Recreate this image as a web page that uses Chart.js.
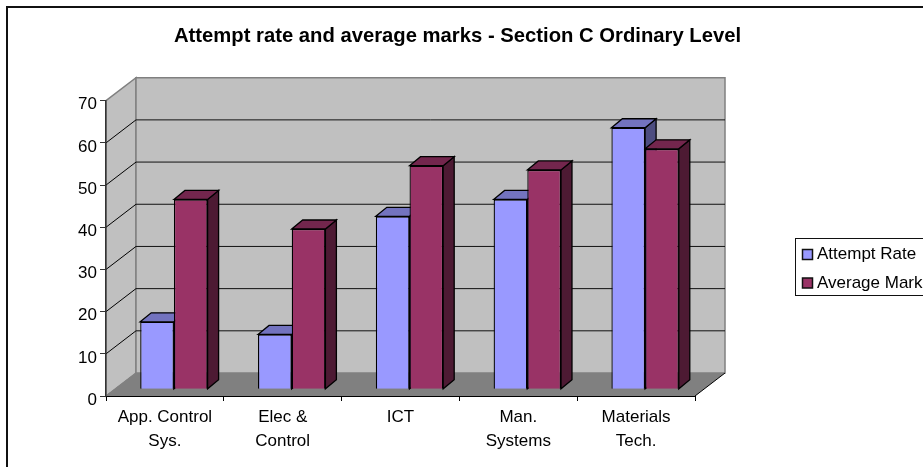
<!DOCTYPE html>
<html>
<head>
<meta charset="utf-8">
<title>Attempt rate and average marks</title>
<script src="https://cdn.jsdelivr.net/npm/chart.js@4/dist/chart.umd.min.js"></script>
<style>
    html, body { margin: 0; padding: 0; background: #fff; overflow: hidden; }
    #wrap { position: absolute; left: 0; top: 0; width: 923px; height: 467px; }
</style>
</head>
<body>
<div id="wrap"><canvas id="chart"></canvas></div>
<script>
const categories = [['App. Control', 'Sys.'], ['Elec &', 'Control'], 'ICT', ['Man.', 'Systems'], ['Materials', 'Tech.']];
const attemptRate = [16, 13, 41, 45, 62];
const averageMark = [45, 38, 53, 52, 57];
const yTicks = [0, 10, 20, 30, 40, 50, 60, 70];
const titleText = 'Attempt rate and average marks - Section C Ordinary Level';

const FONT = '"Liberation Sans", Arial, sans-serif';
// 3D look: how far the back wall and the bars sit behind the axis plane
const WALL = { dx: 30, dy: -23 };
const BAR_SHIFT = { dx: 9, dy: -6.7 };
const BAR_DEPTH = { dx: 11, dy: -9 };

function shape(ctx, pts, fill, stroke, lw) {
    ctx.beginPath();
    pts.forEach((p, i) => i ? ctx.lineTo(p[0], p[1]) : ctx.moveTo(p[0], p[1]));
    ctx.closePath();
    if (fill) { ctx.fillStyle = fill; ctx.fill(); }
    if (stroke) { ctx.strokeStyle = stroke; ctx.lineWidth = lw || 1; ctx.stroke(); }
}

function line(ctx, x1, y1, x2, y2, color, lw) {
    ctx.beginPath();
    ctx.moveTo(x1, y1);
    ctx.lineTo(x2, y2);
    ctx.strokeStyle = color;
    ctx.lineWidth = lw || 1;
    ctx.stroke();
}

// Walls, floor and grid behind the axes
const box3d = {
    id: 'box3d',
    beforeDraw(chart) {
        const { ctx, chartArea: a, scales } = chart;
        const dx = WALL.dx, dy = WALL.dy;
        ctx.save();
        shape(ctx, [[a.left, a.top], [a.left + dx, a.top + dy], [a.left + dx, a.bottom + dy], [a.left, a.bottom]], '#C0C0C0', '#808080', 1.5);
        shape(ctx, [[a.left + dx, a.top + dy], [a.right + dx, a.top + dy], [a.right + dx, a.bottom + dy], [a.left + dx, a.bottom + dy]], '#C0C0C0', '#808080', 1.5);
        shape(ctx, [[a.left, a.bottom], [a.left + dx, a.bottom + dy], [a.right + dx, a.bottom + dy], [a.right, a.bottom]], '#808080', null);
        yTicks.forEach(v => {
            if (v === 0 || v === 70) return;
            const y = scales.y.getPixelForValue(v);
            line(ctx, a.left, y, a.left + dx, y + dy, '#000');
            line(ctx, a.left + dx, y + dy, a.right + dx, y + dy, '#111');
        });
        line(ctx, a.left, a.bottom, a.left + dx, a.bottom + dy, '#808080');
        line(ctx, a.right, a.bottom, a.right + dx, a.bottom + dy, '#000');
        ctx.restore();
    },
    // Side and top faces first, the library then draws the front faces over them
    beforeDatasetsDraw(chart) {
        const { ctx } = chart;
        ctx.save();
        ctx.translate(BAR_SHIFT.dx, BAR_SHIFT.dy);
        const dx = BAR_DEPTH.dx, dy = BAR_DEPTH.dy;
        chart.data.datasets.forEach((ds, i) => {
            chart.getDatasetMeta(i).data.forEach(bar => {
                const l = bar.x - bar.width / 2, r = bar.x + bar.width / 2;
                shape(ctx, [[r, bar.y], [r + dx, bar.y + dy], [r + dx, bar.base + dy], [r, bar.base]], ds.sideColor, '#000', 1.3);
                shape(ctx, [[l, bar.y], [l + dx, bar.y + dy], [r + dx, bar.y + dy], [r, bar.y]], ds.topColor, '#000', 1.3);
            });
        });
    },
    afterDatasetsDraw(chart) {
        chart.ctx.restore();
    },
    afterDraw(chart) {
        const { ctx, width, height } = chart;
        ctx.save();
        // chart frame, only its top and left edges fall inside the picture
        ctx.strokeStyle = '#111';
        ctx.lineWidth = 2;
        ctx.strokeRect(7, 7, width + 20, height + 20);
        // legend box runs off the right edge like the reference
        ctx.lineWidth = 1;
        ctx.strokeRect(795.5, 238.5, 140, 57);
        ctx.font = '17px ' + FONT;
        ctx.textBaseline = 'middle';
        chart.data.datasets.forEach((ds, i) => {
            const y = 254.5 + i * 28.5;
            ctx.fillStyle = ds.backgroundColor;
            ctx.fillRect(802.5, y - 5, 10, 10);
            ctx.lineWidth = 1.5;
            ctx.strokeRect(802.5, y - 5, 10, 10);
            ctx.fillStyle = '#000';
            ctx.fillText(ds.label, 817, y);
        });
        ctx.restore();
    }
};

new Chart(document.getElementById('chart'), {
    type: 'bar',
    data: {
        labels: categories,
        datasets: [
            { label: 'Attempt Rate', data: attemptRate, backgroundColor: '#9999FF', sideColor: '#4D4D80', topColor: '#7373BF', borderColor: '#000', borderWidth: 1.3, clip: false },
            { label: 'Average Mark', data: averageMark, backgroundColor: '#993366', sideColor: '#4D1A33', topColor: '#73264D', borderColor: '#000', borderWidth: 1.3, clip: false }
        ]
    },
    options: {
        responsive: true,
        maintainAspectRatio: false,
        animation: false,
        layout: { padding: { left: 0, right: 8, top: 0, bottom: 0 } },
        datasets: { bar: { categoryPercentage: 0.572, barPercentage: 1 } },
        plugins: {
            legend: { display: false },
            tooltip: { enabled: false },
            title: {
                display: true,
                text: titleText,
                color: '#000',
                font: { family: FONT, size: 20.25, weight: 'bold' },
                padding: { top: 24, bottom: 52.4 }
            }
        },
        scales: {
            x: {
                afterFit: s => { s.height = 71; },
                grid: { display: true, drawOnChartArea: false, color: '#000', tickLength: 5 },
                border: { color: '#000' },
                ticks: { color: '#000', font: { family: FONT, size: 17, lineHeight: 1.37 }, padding: 5, maxRotation: 0, autoSkip: false }
            },
            y: {
                min: 0,
                max: 70,
                afterBuildTicks: s => { s.ticks = yTicks.map(v => ({ value: v })); },
                afterFit: s => { s.width = 106; },
                // tick numbers sit a little lower than the tick marks in the reference
                afterUpdate: s => {
                    const drawLabels = s.drawLabels;
                    s.drawLabels = area => {
                        s.ctx.save();
                        s.ctx.translate(0, 2);
                        drawLabels.call(s, area);
                        s.ctx.restore();
                    };
                },
                grid: { drawOnChartArea: false, color: '#333', tickLength: 6 },
                border: { color: '#333', width: 1.5 },
                ticks: { color: '#000', font: { family: FONT, size: 17 }, padding: 3 }
            },
            // empty axis that only reserves the space the legend sits in
            gap: {
                position: 'right',
                axis: 'y',
                afterFit: s => { s.width = 220; },
                grid: { display: false },
                border: { display: false },
                ticks: { display: false }
            }
        }
    },
    plugins: [box3d]
});
</script>
</body>
</html>
